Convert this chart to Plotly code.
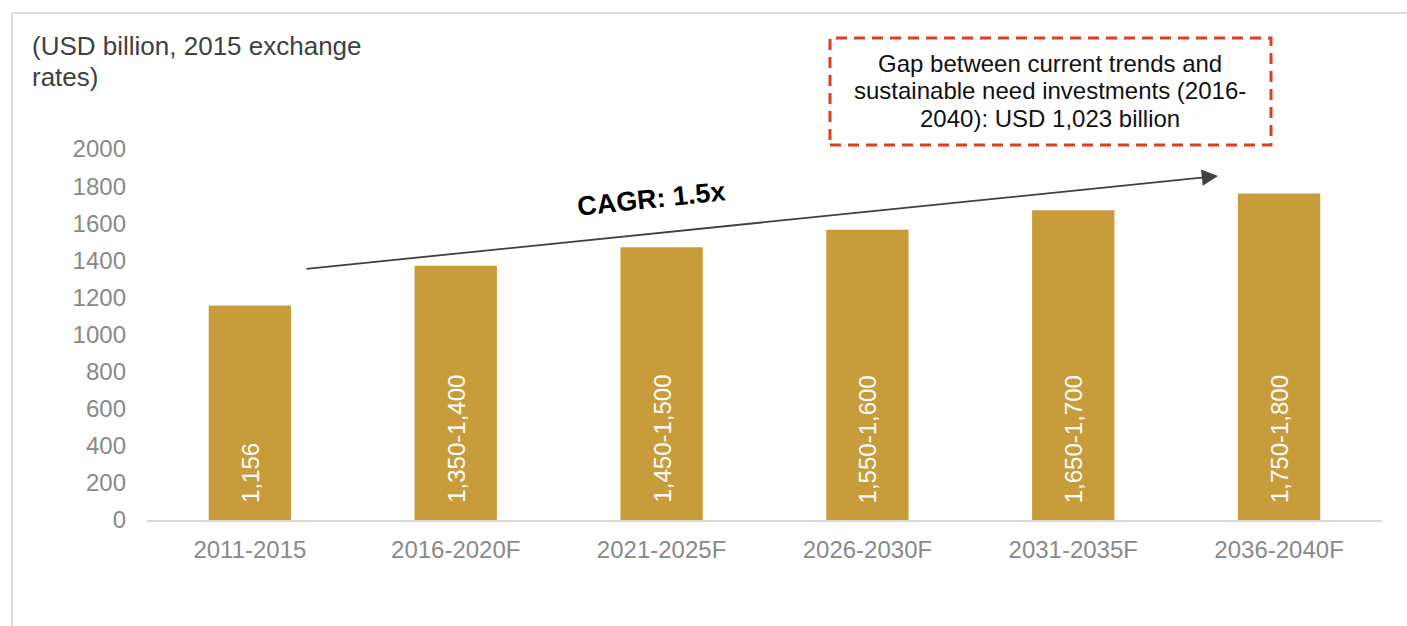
import plotly.graph_objects as go

# Investment per five-year period (USD billion, 2015 exchange rates)
periods = ["2011-2015", "2016-2020F", "2021-2025F", "2026-2030F", "2031-2035F", "2036-2040F"]
values = [1156, 1370, 1470, 1565, 1670, 1760]
value_labels = ["1,156", "1,350-1,400", "1,450-1,500", "1,550-1,600", "1,650-1,700", "1,750-1,800"]
y_ticks = [0, 200, 400, 600, 800, 1000, 1200, 1400, 1600, 1800, 2000]

W, H = 1407, 626
ML, MR, MT, MB = 147, 25, 149, 106
PW, PH = W - ML - MR, H - MT - MB
FONT = "Liberation Sans, Arial, sans-serif"


def px_x(px):
    return (px - ML) / PW


def px_y(py):
    return (H - MB - py) / PH


fig = go.Figure()
fig.add_trace(go.Bar(
    x=periods, y=values, width=0.4,
    marker=dict(color="#C89B3B", line=dict(width=0)),
    hoverinfo="skip",
))

annotations = []
# value labels rotated inside the bars
for p, lab in zip(periods, value_labels):
    annotations.append(dict(
        x=p, y=0, xref="x", yref="y", text=lab, showarrow=False,
        textangle=-90, yanchor="bottom", xanchor="center", yshift=15,
        font=dict(family=FONT, size=24, color="white"),
    ))

# unit title (one annotation per line for tighter leading)
for line, top in zip(["(USD billion, 2015 exchange", "rates)"], [29, 60]):
    annotations.append(dict(
        x=px_x(30), y=px_y(top), xref="paper", yref="paper",
        xanchor="left", yanchor="top", align="left", showarrow=False,
        text=line, font=dict(family=FONT, size=26, color="#404040"),
    ))

# growth arrow and label
annotations.append(dict(
    x=px_x(1218), y=px_y(176), xref="paper", yref="paper",
    ax=305 - 1218, ay=269 - 176, axref="pixel", ayref="pixel",
    showarrow=True, arrowhead=2, arrowsize=1.8, arrowwidth=1.8,
    arrowcolor="#404040", text="",
))
annotations.append(dict(
    x=px_x(651), y=px_y(174), xref="paper", yref="paper", showarrow=False,
    text="<b>CAGR: 1.5x</b>", textangle=-6,
    font=dict(family=FONT, size=27, color="black"),
))

# gap callout text
gap_lines = ["Gap between current trends and",
             "sustainable need investments (2016-",
             "2040): USD 1,023 billion"]
for line, cy in zip(gap_lines, [64, 91, 119]):
    annotations.append(dict(
        x=px_x(1050), y=px_y(cy), xref="paper", yref="paper",
        xanchor="center", yanchor="middle", showarrow=False, text=line,
        font=dict(family=FONT, size=24, color="#111111"),
    ))

shapes = [
    # light frame on top and left
    dict(type="line", xref="paper", yref="paper",
         x0=px_x(12), x1=px_x(1407), y0=px_y(13), y1=px_y(13),
         line=dict(color="#DDDDDD", width=2)),
    dict(type="line", xref="paper", yref="paper",
         x0=px_x(12), x1=px_x(12), y0=px_y(13), y1=px_y(626),
         line=dict(color="#DDDDDD", width=2)),
    # dashed callout box
    dict(type="rect", xref="paper", yref="paper",
         x0=px_x(830), x1=px_x(1271), y0=px_y(145), y1=px_y(38),
         line=dict(color="#D9411F", width=3, dash="11px,7px"),
         fillcolor="rgba(0,0,0,0)"),
]

fig.update_layout(
    width=W, height=H,
    margin=dict(l=ML, r=MR, t=MT, b=MB, pad=0),
    paper_bgcolor="white", plot_bgcolor="white",
    showlegend=False,
    font=dict(family=FONT),
    annotations=annotations,
    shapes=shapes,
    xaxis=dict(
        type="category", showgrid=False, zeroline=False,
        showline=True, linecolor="#D9D9D9", linewidth=2,
        ticks="", ticklabelstandoff=7,
        tickfont=dict(family=FONT, size=24, color="#898989"),
    ),
    yaxis=dict(
        range=[0, 2000], tickvals=y_ticks, showgrid=False, zeroline=False,
        showline=False, ticks="", ticklabelstandoff=20,
        tickfont=dict(family=FONT, size=24, color="#898989"),
    ),
)

fig.write_html("out.html")
